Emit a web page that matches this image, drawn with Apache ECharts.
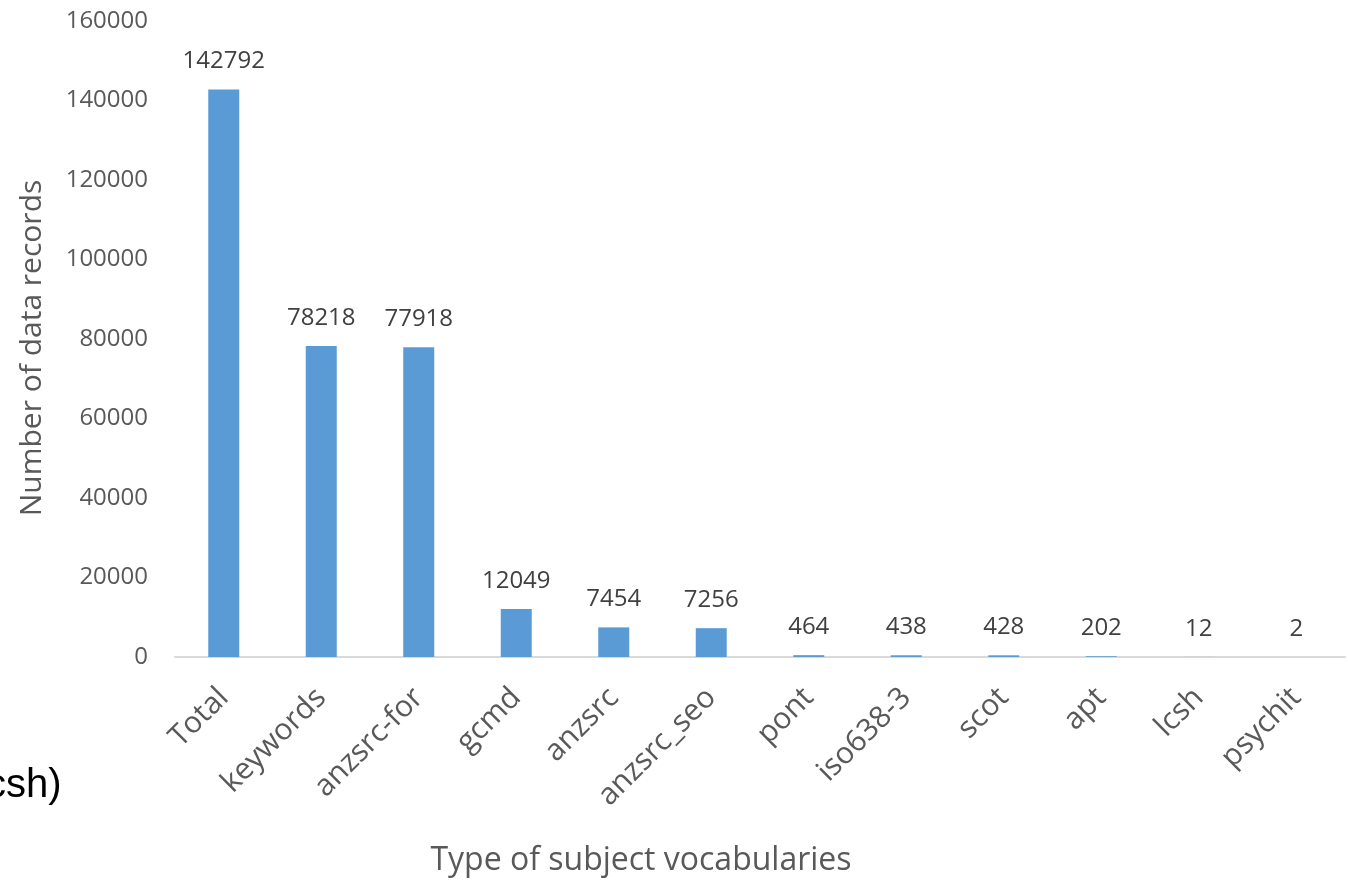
<!DOCTYPE html>
<html>
<head>
<meta charset="utf-8">
<script src="https://cdn.jsdelivr.net/npm/echarts@6/dist/echarts.min.js"></script>
<style>
  html, body { margin: 0; padding: 0; background: #fff; }
  #chart { width: 1348px; height: 882px; }
</style>
</head>
<body>
<div id="chart"></div>
<script>
// Subject vocabulary usage across data records
const categories = ['Total', 'keywords', 'anzsrc-for', 'gcmd', 'anzsrc', 'anzsrc_seo',
  'pont', 'iso638-3', 'scot', 'apt', 'lcsh', 'psychit'];
const recordCounts = [142792, 78218, 77918, 12049, 7454, 7256, 464, 438, 428, 202, 12, 2];
const yTicks = { min: 0, max: 160000, interval: 20000 };

const font = '"Open Sans", "Liberation Sans", sans-serif';

const chart = echarts.init(document.getElementById('chart'), null, { renderer: 'canvas' });
chart.setOption({
  animation: false,
  grid: { left: 175, right: 3, top: 21, bottom: 224, containLabel: false },
  xAxis: {
    type: 'category',
    data: categories,
    name: 'Type of subject vocabularies',
    nameLocation: 'middle',
    nameGap: 188,
    // right padding pulls the title left of the plot centre
    nameTextStyle: { fontFamily: font, fontSize: 32, color: '#595959', padding: [0, 238, 0, 0] },
    axisLine: { lineStyle: { color: '#d9d9d9', width: 2 } },
    axisTick: { show: false },
    axisLabel: {
      rotate: 45, margin: 36, interval: 0,
      fontFamily: font, fontSize: 30, color: '#595959'
    }
  },
  yAxis: {
    type: 'value',
    min: yTicks.min, max: yTicks.max, interval: yTicks.interval,
    name: 'Number of data records',
    nameLocation: 'middle',
    nameGap: 128,
    nameTextStyle: { fontFamily: font, fontSize: 30, color: '#595959', padding: [0, 18, 0, 0] },
    axisLine: { show: false },
    axisTick: { show: false },
    splitLine: { show: false },
    axisLabel: {
      margin: 27, fontFamily: font, fontSize: 24, color: '#595959',
      formatter: (v) => String(v)
    }
  },
  series: [{
    type: 'bar',
    data: recordCounts,
    barWidth: 31,
    itemStyle: { color: '#5B9BD5' },
    label: {
      show: true, position: 'top', distance: 16,
      fontFamily: font, fontSize: 24, color: '#404040'
    }
  }],
  graphic: [{
    type: 'text',
    left: -14, top: 766,
    style: { text: 'csh)', font: '40px "Liberation Sans", Arial, sans-serif', fill: '#000' }
  }]
});
</script>
</body>
</html>
